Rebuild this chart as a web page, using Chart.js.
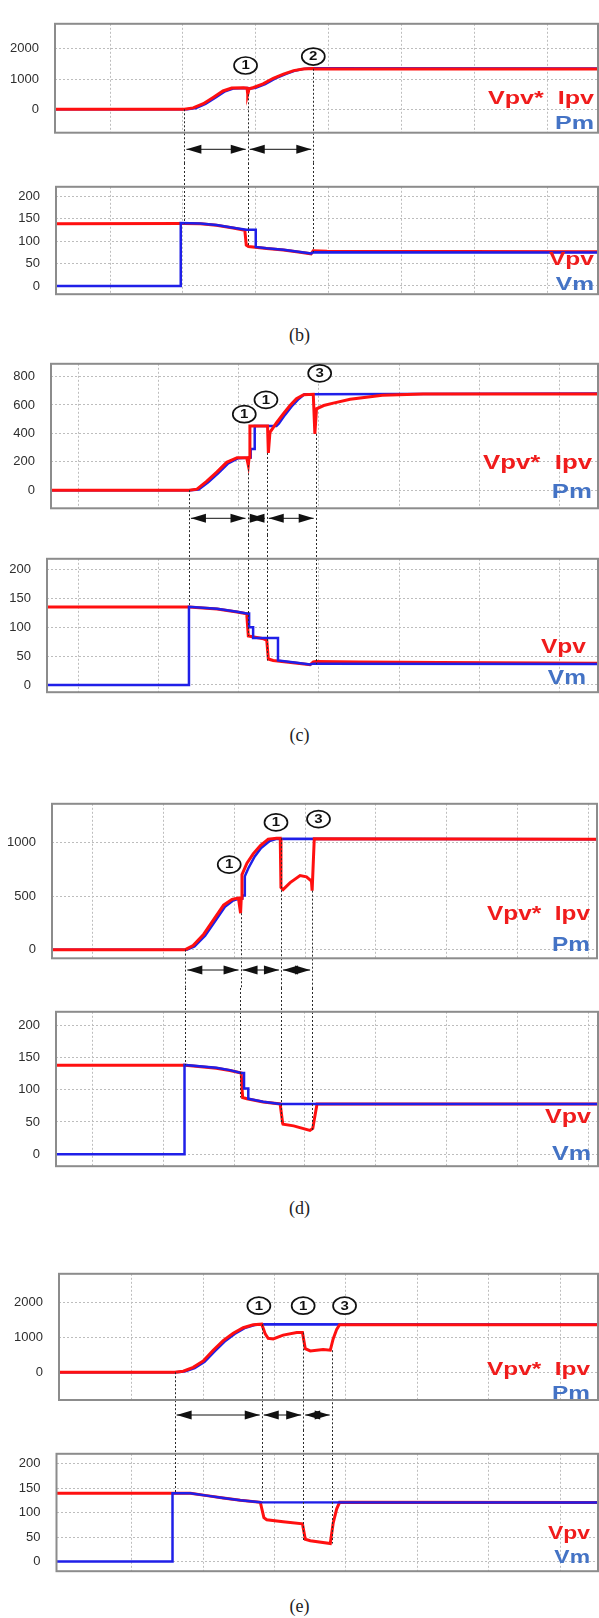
<!DOCTYPE html>
<html>
<head>
<meta charset="utf-8">
<script src="https://cdn.jsdelivr.net/npm/chart.js@4.4.0/dist/chart.umd.min.js"></script>
<style>
  html, body { margin: 0; padding: 0; background: #fff; }
  body { width: 599px; height: 1618px; position: relative; overflow: hidden; }
  .box { position: absolute; left: 0; width: 599px; }
  .cap { position: absolute; left: 0; width: 599px; height: 22px; line-height: 22px; text-align: center;
         font-family: "Liberation Serif", "DejaVu Serif", serif; font-size: 18px; color: #222; }
</style>
</head>
<body>
<div class="box" style="top:0px;height:163px"><canvas id="bTop"></canvas></div>
<div class="box" style="top:163px;height:155px"><canvas id="bBot"></canvas></div>
<div class="cap" style="top:324px">(b)</div>

<div class="box" style="top:340px;height:195px"><canvas id="cTop"></canvas></div>
<div class="box" style="top:535px;height:181px"><canvas id="cBot"></canvas></div>
<div class="cap" style="top:724px">(c)</div>

<div class="box" style="top:780px;height:208px"><canvas id="dTop"></canvas></div>
<div class="box" style="top:988px;height:202px"><canvas id="dBot"></canvas></div>
<div class="cap" style="top:1197px">(d)</div>

<div class="box" style="top:1250px;height:180px"><canvas id="eTop"></canvas></div>
<div class="box" style="top:1430px;height:165px"><canvas id="eBot"></canvas></div>
<div class="cap" style="top:1595px">(e)</div>

<script>
// tick values
const gridX7 = [1, 2, 3, 4, 5, 6, 7];
const gridX8 = [1, 2, 3, 4, 5, 6, 7, 8];
const voltTicks = [0, 50, 100, 150, 200];

// ---- (b) ----
const bPowTicks = [0, 1000, 2000];
const bPowX = [0.25, 2.02, 2.14, 2.28, 2.42, 2.55, 2.67, 2.83, 2.88, 2.89, 2.91, 2.97, 3.10, 3.24, 3.38, 3.52, 3.65, 3.79, 3.80, 7.70];
const bPowY = [0, 0, 45, 185, 400, 605, 700, 715, 700, 495, 680, 720, 840, 1025, 1165, 1280, 1335, 1350, 1335, 1335];
const bPmX = [0.25, 2.06, 2.18, 2.31, 2.45, 2.58, 2.70, 2.88, 2.93, 3.00, 3.13, 3.27, 3.41, 3.55, 3.68, 3.80, 7.70];
const bPmY = [0, 0, 40, 175, 390, 595, 690, 700, 690, 710, 835, 1020, 1165, 1285, 1345, 1355, 1350];
const bVpvX = [0.26, 2.02, 2.24, 2.46, 2.69, 2.85, 2.87, 2.90, 3.15, 3.38, 3.61, 3.76, 3.79, 3.98, 7.70];
const bVpvY = [138.7, 139, 138.5, 135, 129, 124, 91, 88, 83.5, 80, 75, 71.5, 78.5, 77.5, 76];
const bVmX = [0.26, 1.97, 1.97, 2.24, 2.46, 2.69, 2.87, 3.00, 3.00, 3.15, 3.38, 3.61, 3.76, 3.79, 7.70];
const bVmY = [0, 0, 140, 139, 135.5, 129.5, 125, 125, 87, 84, 80.5, 75.5, 72.5, 75, 74.5];
const bEvents = [2.02, 2.89, 3.79];
const bEventTopY = [0, 495, 1340];
const bEventBotY = [139, 88, 75];
const bMarkText = ["1", "2"];
const bMarkX = [2.86, 3.79];
const bMarkY = [1448, 1745];

// ---- (c) ----
const cPowTicks = [0, 200, 400, 600, 800];
const cPowX = [0.66, 2.38, 2.48, 2.60, 2.73, 2.85, 2.98, 3.10, 3.12, 3.13, 3.14, 3.36, 3.37, 3.39, 3.47, 3.56, 3.64, 3.72, 3.81, 3.93, 3.95, 3.97, 4.06, 4.18, 4.39, 4.79, 5.30, 7.48];
const cPowY = [0, 0, 7, 62, 129, 196, 229, 229, 175, 230, 451, 451, 262, 407, 473, 540, 596, 644, 672, 675, 396, 573, 596, 613, 640, 668, 677, 678];
const cPmX = [0.66, 2.40, 2.50, 2.62, 2.75, 2.87, 2.99, 3.15, 3.15, 3.20, 3.20, 3.47, 3.50, 3.58, 3.66, 3.74, 3.82, 7.48];
const cPmY = [0, 0, 5, 55, 122, 188, 224, 229, 289, 289, 451, 451, 468, 532, 590, 638, 676, 680];
const cVpvX = [0.61, 2.38, 2.73, 2.98, 3.10, 3.12, 3.31, 3.35, 3.37, 3.43, 3.89, 3.93, 3.96, 4.5, 5.5, 7.48];
const cVpvY = [135, 135, 131.5, 126.5, 123.5, 85, 80, 77.5, 45, 42.5, 35, 40, 40.5, 40, 39, 37.5];
const cVmX = [0.61, 2.38, 2.38, 2.73, 2.98, 3.10, 3.13, 3.13, 3.18, 3.18, 3.49, 3.49, 3.70, 3.89, 3.93, 7.48];
const cVmY = [0, 0, 135.5, 132, 127, 124, 124, 100, 100, 81.5, 81.5, 42.5, 39, 35.5, 37, 36.5];
const cEvents = [2.38, 3.11, 3.35, 3.96];
const cEventTopY = [0, 175, 262, 396];
const cEventBotY = [135, 85, 42.5, 36];
const cMarkText = ["1", "1", "3"];
const cMarkX = [3.07, 3.34, 4.01];
const cMarkY = [535, 636, 823];

// ---- (d) ----
const dPowTicks = [0, 500, 1000];
const dPowX = [0.43, 2.31, 2.42, 2.57, 2.71, 2.85, 2.97, 3.06, 3.09, 3.10, 3.11, 3.18, 3.27, 3.37, 3.48, 3.60, 3.65, 3.66, 3.69, 3.79, 3.93, 4.02, 4.09, 4.10, 4.13, 8.12];
const dPowY = [0, 0, 39, 144, 280, 415, 470, 482, 340, 480, 700, 807, 897, 972, 1032, 1041, 1041, 581, 560, 626, 692, 680, 641, 551, 1035, 1032];
const dPmX = [0.43, 2.33, 2.44, 2.59, 2.73, 2.87, 2.99, 3.08, 3.115, 3.115, 3.15, 3.15, 3.20, 3.29, 3.38, 3.50, 3.60, 8.12];
const dPmY = [0, 0, 30, 130, 265, 400, 460, 478, 478, 505, 505, 686, 760, 870, 950, 1015, 1035, 1032];
const dVpvX = [0.49, 2.31, 2.75, 2.94, 3.10, 3.12, 3.18, 3.41, 3.65, 3.685, 3.69, 3.84, 4.07, 4.11, 4.17, 8.14];
const dVpvY = [138, 138, 133.5, 130, 126, 88, 86, 81, 78, 48, 46.5, 44, 37, 40, 78, 78];
const dVmX = [0.49, 2.30, 2.30, 2.75, 2.94, 3.10, 3.14, 3.14, 3.20, 3.20, 3.41, 3.65, 8.14];
const dVmY = [0, 0, 138.5, 134, 130.5, 126, 126, 102, 102, 86, 81.5, 78, 78];
const dEvents = [2.31, 3.09, 3.66, 4.10];
const dEventTopY = [0, 340, 1041, 551];
const dEventBotY = [138, 88, 48, 37];
const dMarkText = ["1", "1", "3"];
const dMarkX = [2.93, 3.59, 4.19];
const dMarkY = [794, 1188, 1219];

// ---- (e) ----
const ePowTicks = [0, 1000, 2000];
const ePowX = [-0.05, 1.60, 1.72, 1.86, 2.00, 2.14, 2.28, 2.42, 2.56, 2.70, 2.82, 2.87, 2.91, 2.98, 3.12, 3.31, 3.39, 3.43, 3.50, 3.68, 3.78, 3.82, 3.87, 3.91, 7.53];
const ePowY = [0, 0, 28, 139, 324, 630, 907, 1120, 1278, 1361, 1380, 1093, 972, 954, 1065, 1139, 1139, 676, 611, 648, 630, 954, 1231, 1361, 1365];
const ePmX = [-0.05, 1.62, 1.74, 1.88, 2.02, 2.16, 2.30, 2.44, 2.58, 2.72, 2.82, 7.53];
const ePmY = [0, 0, 20, 120, 300, 600, 880, 1100, 1265, 1355, 1378, 1372];
const eVpvX = [-0.06, 1.60, 1.82, 2.05, 2.28, 2.52, 2.80, 2.85, 2.89, 3.12, 3.39, 3.43, 3.50, 3.78, 3.82, 3.87, 3.91, 7.53];
const eVpvY = [140, 140, 140, 135, 130, 125.5, 121.4, 90, 85.7, 81.5, 77.4, 45.8, 42.8, 37, 78.5, 108, 121.4, 121];
const eVmX = [-0.06, 1.57, 1.57, 1.82, 2.05, 2.28, 2.52, 2.80, 7.53];
const eVmY = [0, 0, 140, 140, 135, 130, 125.5, 121.5, 121];
const eEvents = [1.60, 2.82, 3.40, 3.80];
const eEventTopY = [0, 1378, 1139, 630];
const eEventBotY = [140, 121, 42.8, 37];
const eMarkText = ["1", "1", "3"];
const eMarkX = [2.78, 3.40, 3.98];
const eMarkY = [1909, 1909, 1909];

const RED = "#ff1010";
const BLUE = "#1f1fe8";
const LAB_RED = "#f01c1c";
const LAB_BLUE = "#4473c5";
const GRID = "#bdbdbd";

function arrow(ctx, x1, x2, y) {
  const h = 15, w = 4.5;
  ctx.beginPath();
  ctx.moveTo(x1, y);
  ctx.lineTo(x2, y);
  ctx.stroke();
  ctx.beginPath();
  ctx.moveTo(x1, y); ctx.lineTo(x1 + h, y - w); ctx.lineTo(x1 + h, y + w);
  ctx.closePath(); ctx.fill();
  ctx.beginPath();
  ctx.moveTo(x2, y); ctx.lineTo(x2 - h, y - w); ctx.lineTo(x2 - h, y + w);
  ctx.closePath(); ctx.fill();
}

function overlay(o) {
  return {
    id: "overlay",
    afterDatasetsDraw(chart) {
      const ctx = chart.ctx;
      const a = chart.chartArea;
      const xs = chart.scales.x, ys = chart.scales.y;
      ctx.save();

      // dotted connectors at the events
      ctx.strokeStyle = "#2a2a2a";
      ctx.lineWidth = 1;
      ctx.setLineDash([2, 2]);
      o.ev.forEach((ev, i) => {
        const px = Math.round(xs.getPixelForValue(ev)) + 0.5;
        const py = ys.getPixelForValue(o.evY[i]);
        ctx.beginPath();
        if (o.isTop) { ctx.moveTo(px, py); ctx.lineTo(px, chart.height); }
        else { ctx.moveTo(px, 0); ctx.lineTo(px, py); }
        ctx.stroke();
      });
      ctx.setLineDash([]);

      // frame
      ctx.strokeStyle = "#8c8c8c";
      ctx.lineWidth = 2;
      ctx.strokeRect(a.left, a.top, a.right - a.left, a.bottom - a.top);

      if (o.isTop) {
        // interval arrows
        ctx.strokeStyle = "#111";
        ctx.fillStyle = "#111";
        ctx.lineWidth = 1;
        const ay = a.bottom + o.arrowY;
        for (let i = 0; i < o.ev.length - 1; i++) {
          const x1 = xs.getPixelForValue(o.ev[i]) + 2;
          const x2 = xs.getPixelForValue(o.ev[i + 1]) - 2;
          arrow(ctx, x1, x2, ay);
        }
        // circled step numbers
        o.marks.t.forEach((t, i) => {
          const mx = xs.getPixelForValue(o.marks.x[i]);
          const my = ys.getPixelForValue(o.marks.y[i]);
          ctx.beginPath();
          ctx.ellipse(mx, my, 11.5, 8.5, 0, 0, Math.PI * 2);
          ctx.fillStyle = "#fff";
          ctx.fill();
          ctx.strokeStyle = "#111";
          ctx.lineWidth = 1.7;
          ctx.stroke();
          ctx.save();
          ctx.translate(mx, my + 0.5);
          ctx.scale(1.25, 1);
          ctx.fillStyle = "#111";
          ctx.font = "bold 12px 'Liberation Sans', Arial, sans-serif";
          ctx.textAlign = "center";
          ctx.textBaseline = "middle";
          ctx.fillText(t, 0, 0);
          ctx.restore();
        });
      }

      // signal names
      ctx.font = "bold " + o.fs + "px 'Liberation Sans', Arial, sans-serif";
      ctx.textAlign = "right";
      ctx.textBaseline = "alphabetic";
      const sx = o.w1 / ctx.measureText(o.lab[0]).width;
      [[o.lab[0], LAB_RED, o.labY[0]], [o.lab[1], LAB_BLUE, o.labY[1]]].forEach(l => {
        ctx.save();
        ctx.translate(a.right - o.labR, a.bottom - l[2]);
        ctx.scale(sx, 1);
        ctx.fillStyle = l[1];
        ctx.fillText(l[0], 0, 0);
        ctx.restore();
      });
      ctx.restore();
    }
  };
}

function makeChart(o) {
  const datasets = o.series.map(s => ({
    data: s.x.map((v, i) => ({ x: v, y: s.y[i] })),
    borderColor: s.c,
    borderWidth: s.w,
    pointRadius: 0,
    tension: 0,
    fill: false
  }));
  new Chart(document.getElementById(o.id), {
    type: "line",
    data: { datasets: datasets },
    options: {
      responsive: true,
      maintainAspectRatio: false,
      animation: false,
      layout: { padding: { top: o.pad[0], right: o.pad[1], bottom: o.pad[2], left: 0 } },
      plugins: { legend: { display: false }, tooltip: { enabled: false } },
      scales: {
        x: {
          type: "linear",
          min: o.xMin,
          max: o.xMax,
          afterBuildTicks: s => { s.ticks = o.xTicks.map(v => ({ value: v })); },
          afterFit: s => { s.height = 0; },
          ticks: { display: false },
          grid: { color: GRID, lineWidth: 1, drawTicks: false },
          border: { display: false, dash: [2, 2] }
        },
        y: {
          type: "linear",
          min: o.yMin,
          max: o.yMax,
          afterBuildTicks: s => { s.ticks = o.yTicks.map(v => ({ value: v })); },
          afterFit: s => { s.width = o.left; },
          ticks: {
            padding: 16,
            color: "#2e2e2e",
            font: { family: "'Liberation Sans', Arial, sans-serif", size: 13 },
            callback: v => String(v)
          },
          grid: { color: GRID, lineWidth: 1, drawTicks: false },
          border: { display: false, dash: [2, 2] }
        }
      }
    },
    plugins: [overlay(o)]
  });
}

const charts = [
  { id: "bTop", pad: [4, 1, 30.3], left: 55, xMin: 0.243, xMax: 7.70, yMin: -776, yMax: 2829,
    xTicks: gridX7, yTicks: bPowTicks,
    series: [{ x: bPowX, y: bPowY, c: RED, w: 3 }, { x: bPmX, y: bPmY, c: BLUE, w: 2.5 }],
    isTop: true, ev: bEvents, evY: bEventTopY, arrowY: 16.6,
    marks: { t: bMarkText, x: bMarkX, y: bMarkY },
    lab: ["Vpv*  Ipv", "Pm"], labY: [29, 4], labR: 4, fs: 18, w1: 106 },
  { id: "bBot", pad: [13, 1, 12], left: 56, xMin: 0.257, xMax: 7.70, yMin: -18.4, yMax: 220.8,
    xTicks: gridX7, yTicks: voltTicks,
    series: [{ x: bVmX, y: bVmY, c: BLUE, w: 2.5 }, { x: bVpvX, y: bVpvY, c: RED, w: 3 }],
    isTop: false, ev: bEvents, evY: bEventBotY,
    lab: ["Vpv", "Vm"], labY: [29, 4], labR: 4, fs: 18, w1: 45 },

  { id: "cTop", pad: [17.3, 1, 26.7], left: 51, xMin: 0.66, xMax: 7.48, yMin: -128, yMax: 890,
    xTicks: gridX7, yTicks: cPowTicks,
    series: [{ x: cPowX, y: cPowY, c: RED, w: 3 }, { x: cPmX, y: cPmY, c: BLUE, w: 2.5 }],
    isTop: true, ev: cEvents, evY: cEventTopY, arrowY: 10,
    marks: { t: cMarkText, x: cMarkX, y: cMarkY },
    lab: ["Vpv*  Ipv", "Pm"], labY: [39, 10], labR: 6, fs: 20, w1: 109 },
  { id: "cBot", pad: [17.7, 1, 10], left: 47, xMin: 0.61, xMax: 7.48, yMin: -12.5, yMax: 218.6,
    xTicks: gridX7, yTicks: voltTicks,
    series: [{ x: cVmX, y: cVmY, c: BLUE, w: 2.5 }, { x: cVpvX, y: cVpvY, c: RED, w: 3 }],
    isTop: false, ev: cEvents, evY: cEventBotY,
    lab: ["Vpv", "Vm"], labY: [39, 8], labR: 12, fs: 20, w1: 45 },

  { id: "dTop", pad: [17.3, 2, 29.7], left: 52, xMin: 0.429, xMax: 8.12, yMin: -81, yMax: 1362,
    xTicks: gridX8, yTicks: dPowTicks,
    series: [{ x: dPowX, y: dPowY, c: RED, w: 3 }, { x: dPmX, y: dPmY, c: BLUE, w: 2.5 }],
    isTop: true, ev: dEvents, evY: dEventTopY, arrowY: 11.7,
    marks: { t: dMarkText, x: dMarkX, y: dMarkY },
    lab: ["Vpv*  Ipv", "Pm"], labY: [38, 7], labR: 7, fs: 20, w1: 103 },
  { id: "dBot", pad: [18.7, 1, 11.7], left: 56, xMin: 0.486, xMax: 8.136, yMin: -18.6, yMax: 221,
    xTicks: gridX8, yTicks: voltTicks,
    series: [{ x: dVmX, y: dVmY, c: BLUE, w: 2.5 }, { x: dVpvX, y: dVpvY, c: RED, w: 3 }],
    isTop: false, ev: dEvents, evY: dEventBotY,
    lab: ["Vpv", "Vm"], labY: [43, 6], labR: 7, fs: 20, w1: 46 },

  { id: "eTop", pad: [18.3, 1, 30], left: 59, xMin: -0.02, xMax: 7.53, yMin: -799, yMax: 2826,
    xTicks: gridX7, yTicks: ePowTicks,
    series: [{ x: ePowX, y: ePowY, c: RED, w: 3 }, { x: ePmX, y: ePmY, c: BLUE, w: 2.5 }],
    isTop: true, ev: eEvents, evY: eEventTopY, arrowY: 15,
    marks: { t: eMarkText, x: eMarkX, y: eMarkY },
    lab: ["Vpv*  Ipv", "Pm"], labY: [25, 1], labR: 8, fs: 19, w1: 103 },
  { id: "eBot", pad: [16.7, 1, 13.3], left: 56.5, xMin: -0.055, xMax: 7.53, yMin: -19.6, yMax: 220.6,
    xTicks: gridX7, yTicks: voltTicks,
    series: [{ x: eVmX, y: eVmY, c: BLUE, w: 2.5 }, { x: eVpvX, y: eVpvY, c: RED, w: 3 }],
    isTop: false, ev: eEvents, evY: eEventBotY,
    lab: ["Vpv", "Vm"], labY: [32, 8], labR: 8, fs: 19, w1: 42 }
];

charts.forEach(makeChart);
</script>
</body>
</html>
